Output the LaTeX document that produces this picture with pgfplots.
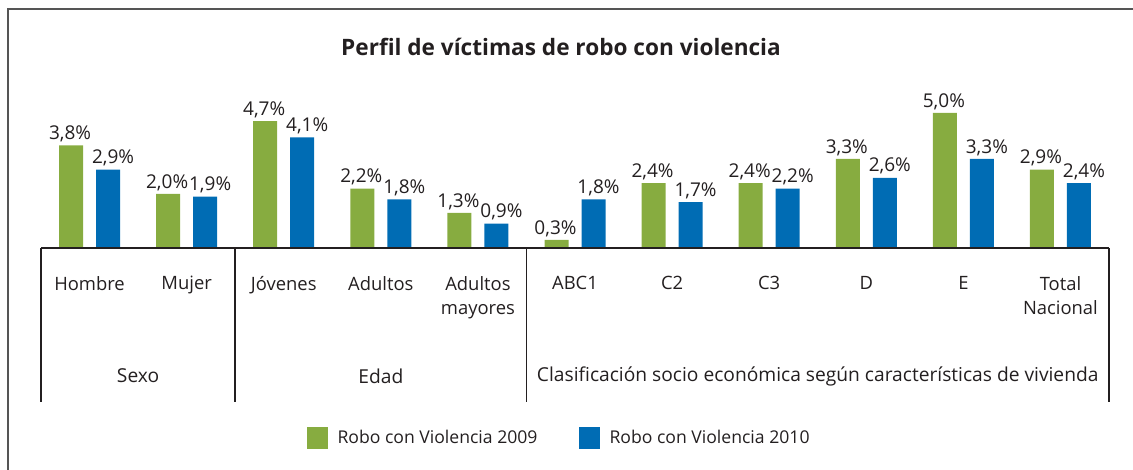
\documentclass[border=0pt]{standalone}
\usepackage{fontspec}
\setmainfont{Open Sans}
\usepackage{pgfplots}
\pgfplotsset{compat=1.18}
\definecolor{cgreen}{RGB}{135,172,64}
\definecolor{cblue}{RGB}{0,108,180}
\definecolor{ctext}{RGB}{35,31,32}
\definecolor{cframe}{RGB}{85,85,85}

\begin{document}
\begin{tikzpicture}
\useasboundingbox (0,0) rectangle (566.5pt,235pt);
% outer frame (left and top visible)
\draw[cframe, line width=1pt] (4pt,-2pt) -- (4pt,230.5pt) -- (570pt,230.5pt);
% title
\node[font=\fontsize{11.3}{13}\selectfont\bfseries, text=ctext] at (280.5pt,211.5pt)
  {Perfil de víctimas de robo con violencia};

\begin{axis}[
  at={(20.5pt,111pt)}, anchor=south west,
  scale only axis, width=534pt, height=74.25pt,
  xmin=-0.5, xmax=10.5, ymin=0, ymax=5.5,
  ybar=6.5pt, bar width=12pt,
  axis x line*=bottom, axis y line=none, x axis line style={draw=none},
  clip=false,
  xtick={0,...,10}, major tick length=0pt, ytick=\empty,
  xticklabels={Hombre, Mujer, Jóvenes, Adultos, Adultos\\mayores,
    ABC1, C2, C3, D, E, Total\\Nacional},
  xticklabel style={font=\fontsize{9.2}{12}\selectfont, text=ctext,
    align=center, anchor=north, yshift=-10.5pt},
  /pgf/number format/assume math mode=true,
  nodes near coords={\pgfmathprintnumber[fixed,fixed zerofill,precision=1,use comma]{\pgfplotspointmeta}\%},
  every node near coord/.append style={font=\fontsize{9.5}{11}\selectfont,
    text=ctext, inner sep=1.5pt},
  legend style={at={(axis cs:4.846,-7.04)}, anchor=center, draw=none, fill=none,
    legend columns=2, font=\fontsize{8.8}{11}\selectfont, text=ctext,
    /tikz/every even column/.append style={column sep=18.5pt}},
]
\addplot[fill=cgreen, draw=none,
  every node near coord/.append style={xshift=-0.5pt},
  legend image code/.code={\fill[cgreen] (0pt,-5.5pt) rectangle (10.5pt,5.5pt);
    \path (13.5pt,0pt);}]
  coordinates {(0,3.8) (1,2.0) (2,4.7) (3,2.2) (4,1.3) (5,0.3) (6,2.4)
    (7,2.4) (8,3.3) (9,5.0) (10,2.9)};
\addlegendentry{Robo con Violencia 2009}
\addplot[fill=cblue, draw=none,
  every node near coord/.append style={xshift=2.5pt},
  legend image code/.code={\fill[cblue] (0pt,-5.5pt) rectangle (10.5pt,5.5pt);
    \path (13.5pt,0pt);}]
  coordinates {(0,2.9) (1,1.9) (2,4.1) (3,1.8) (4,0.9) (5,1.8) (6,1.7)
    (7,2.2) (8,2.6) (9,3.3) (10,2.4)};
\addlegendentry{Robo con Violencia 2010}

% baseline and group dividers
\draw[ctext, line width=1pt] (axis cs:-0.5,0) -- (axis cs:10.5,0);
\draw[ctext, line width=0.8pt] (axis cs:-0.5,0) -- (axis cs:-0.5,-5.7);
\draw[ctext, line width=0.8pt] (axis cs:1.5,0) -- (axis cs:1.5,-5.7);
\draw[ctext, line width=0.8pt] (axis cs:4.5,0) -- (axis cs:4.5,-5.7);
\draw[ctext, line width=0.8pt] (axis cs:10.5,0) -- (axis cs:10.5,-5.7);
% group labels
\node[font=\fontsize{9.6}{11}\selectfont, text=ctext] at (axis cs:0.5,-4.74) {Sexo};
\node[font=\fontsize{9.6}{11}\selectfont, text=ctext] at (axis cs:3,-4.74) {Edad};
\node[font=\fontsize{9.6}{11}\selectfont, text=ctext] at (axis cs:7.5,-4.74)
  {Clasificación socio económica según características de vivienda};
\end{axis}
\end{tikzpicture}
\end{document}
